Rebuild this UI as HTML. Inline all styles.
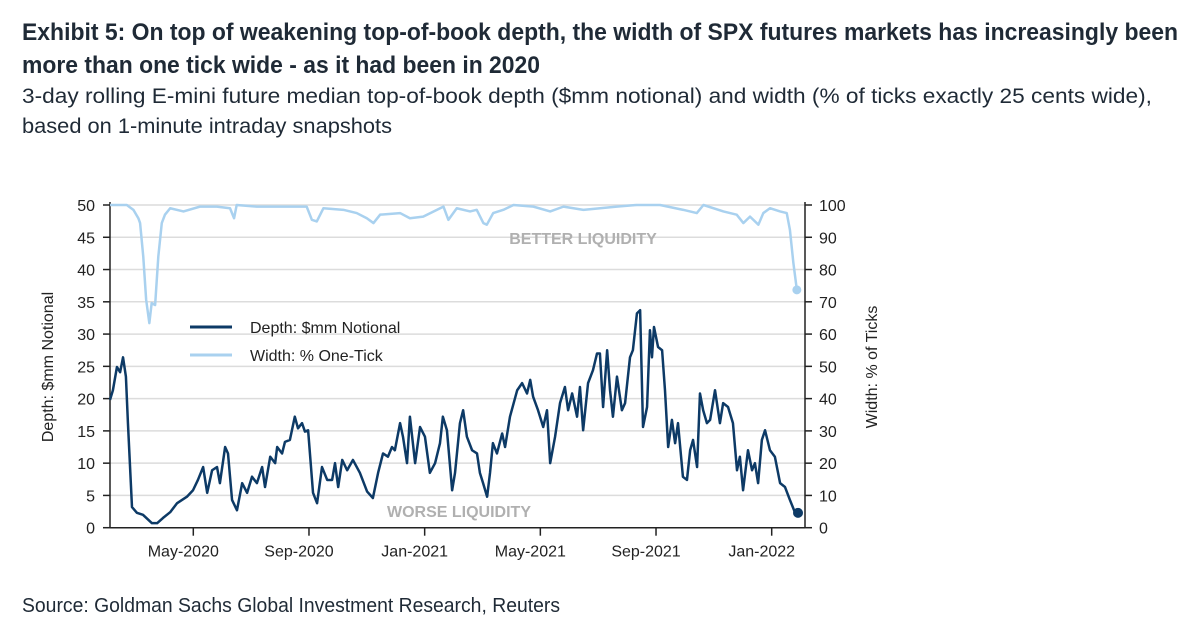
<!DOCTYPE html>
<html><head><meta charset="utf-8"><style>
html,body{margin:0;padding:0;background:#fff;}
svg{display:block;font-family:"Liberation Sans",sans-serif;}
</style></head><body>
<svg id="chart" width="1200" height="627" viewBox="0 0 1200 627">
<text x="22" y="40" font-size="24" font-weight="bold" fill="#1f2a36" textLength="1156" lengthAdjust="spacingAndGlyphs">Exhibit 5: On top of weakening top-of-book depth, the width of SPX futures markets has increasingly been</text>
<text x="22" y="73" font-size="24" font-weight="bold" fill="#1f2a36" textLength="518" lengthAdjust="spacingAndGlyphs">more than one tick wide - as it had been in 2020</text>
<text x="22" y="103" font-size="21" fill="#1f2a36" textLength="1130" lengthAdjust="spacingAndGlyphs">3-day rolling E-mini future median top-of-book depth ($mm notional) and width (% of ticks exactly 25 cents wide),</text>
<text x="22" y="133" font-size="21" fill="#1f2a36" textLength="370" lengthAdjust="spacingAndGlyphs">based on 1-minute intraday snapshots</text>
<text x="22" y="612" font-size="20" fill="#1f2a36" textLength="538" lengthAdjust="spacingAndGlyphs">Source: Goldman Sachs Global Investment Research, Reuters</text>
<g id="grid"></g>
<g id="axes"></g>
<text x="583" y="244" font-size="16" font-weight="bold" fill="#b0b0b0" text-anchor="middle">BETTER LIQUIDITY</text>
<text x="459" y="517" font-size="16" font-weight="bold" fill="#b0b0b0" text-anchor="middle">WORSE LIQUIDITY</text>
<g id="series"></g>
<g>
<line x1="190" y1="327" x2="232" y2="327" stroke="#0d3a66" stroke-width="3"/>
<text x="250" y="333" font-size="16" fill="#222">Depth: $mm Notional</text>
<line x1="190" y1="355" x2="232" y2="355" stroke="#a9d1ef" stroke-width="3"/>
<text x="250" y="361" font-size="16" fill="#222">Width: % One-Tick</text>
</g>
<text transform="translate(53,367) rotate(-90)" font-size="16" fill="#222" text-anchor="middle">Depth: $mm Notional</text>
<text transform="translate(877,367) rotate(-90)" font-size="16" fill="#222" text-anchor="middle">Width: % of Ticks</text>
</svg>
<script>
const depthMonths=[0.12,0.22,0.36,0.47,0.57,0.67,0.74,0.88,1.05,1.26,1.57,1.75,1.95,2.20,2.44,2.78,2.99,3.16,3.34,3.48,3.65,3.82,3.92,4.10,4.20,4.34,4.51,4.69,4.86,5.03,5.20,5.38,5.48,5.66,5.83,5.90,6.07,6.17,6.34,6.51,6.62,6.76,6.86,6.97,7.14,7.28,7.45,7.63,7.80,7.90,8.01,8.15,8.32,8.52,8.76,9.01,9.21,9.39,9.56,9.73,9.87,9.97,10.15,10.25,10.39,10.49,10.67,10.84,11.01,11.18,11.36,11.53,11.63,11.77,11.95,12.05,12.22,12.33,12.46,12.64,12.81,12.91,13.02,13.16,13.26,13.36,13.50,13.68,13.78,13.95,14.20,14.37,14.54,14.65,14.75,14.92,15.10,15.23,15.34,15.51,15.68,15.85,15.96,16.10,16.27,16.37,16.48,16.65,16.82,16.96,17.06,17.17,17.31,17.41,17.51,17.65,17.82,17.93,18.10,18.20,18.34,18.45,18.55,18.69,18.79,18.86,18.93,19.07,19.21,19.31,19.42,19.55,19.66,19.76,19.93,20.07,20.18,20.28,20.42,20.52,20.63,20.76,20.87,21.04,21.21,21.32,21.49,21.66,21.80,21.90,22.01,22.18,22.32,22.42,22.53,22.66,22.77,22.94,23.11,23.29,23.46,23.63,23.81,23.91];
const depthValues=[19.8,21.3,24.9,24.1,26.4,23.4,16.2,3.2,2.3,2.0,0.7,0.7,1.5,2.4,3.8,4.8,5.8,7.4,9.4,5.4,8.9,9.4,6.9,12.5,11.5,4.3,2.7,6.9,5.4,7.9,6.9,9.4,6.3,11.0,10.0,12.5,11.5,13.3,13.6,17.2,15.4,16.2,14.9,15.1,5.4,3.8,9.4,7.4,7.4,10.0,6.3,10.5,8.9,10.5,8.5,5.6,4.6,8.5,11.5,11.0,12.5,12.0,16.2,14.1,10.0,17.2,10.0,15.6,14.1,8.5,10.0,13.1,17.2,15.1,5.8,8.5,16.2,18.2,14.1,12.0,11.5,8.5,6.9,4.8,8.5,13.1,11.5,14.6,12.5,17.2,21.3,22.4,20.8,22.9,20.3,18.2,15.6,18.2,10.0,14.1,19.3,21.8,18.2,20.8,17.2,21.8,15.1,22.4,24.4,27.0,27.0,18.7,27.5,21.3,17.2,23.4,18.2,19.3,26.4,27.5,33.2,33.7,15.6,18.7,30.6,26.4,31.1,28.0,27.5,21.3,12.5,16.7,13.1,16.2,7.9,7.4,12.0,13.6,9.4,20.8,18.2,16.2,16.7,21.3,16.2,19.3,18.7,16.2,8.9,11.0,5.8,12.0,8.9,10.0,6.9,13.6,15.1,12.0,11.0,6.9,6.3,4.3,2.3,2.3];
const widthMonths=[0.12,0.70,0.93,1.10,1.16,1.27,1.37,1.48,1.56,1.68,1.79,1.91,2.02,2.20,2.66,3.23,3.81,4.27,4.41,4.50,5.19,6.34,6.92,7.10,7.27,7.50,8.19,8.65,9.00,9.23,9.46,10.15,10.49,10.95,11.65,11.82,12.11,12.57,12.80,13.03,13.15,13.37,13.72,14.07,14.76,15.34,15.80,16.49,17.64,18.33,19.14,19.94,20.41,20.64,21.33,21.79,22.02,22.25,22.54,22.71,22.94,23.29,23.52,23.63,23.75,23.87];
const widthValues=[100,100,98.5,95.9,94.4,84,70.6,63.4,69.6,69,84,94.4,97,99,98,99.5,99.5,99,95.9,100,99.5,99.5,99.5,95.4,94.9,99,98.5,97.5,95.9,94.4,97,97.5,95.9,96.4,99.5,95.4,99,98,98.5,94.4,93.9,97.5,98.5,100,99.5,98,99.5,98.5,99.5,100,100,98.5,97.5,100,98,97,94.4,96.4,93.9,97.5,99,98,97.5,92.3,82,73.7];
const leftTicks=[0,5,10,15,20,25,30,35,40,45,50];
const rightTicks=[0,10,20,30,40,50,60,70,80,90,100];
const xTickMonths=[3,7,11,15,19,23];
const xTickLabels=["May-2020","Sep-2020","Jan-2021","May-2021","Sep-2021","Jan-2022"];

const NS="http://www.w3.org/2000/svg";
const L=110,R=805,T=205,B=527.7;
const xs=m=>193.3+(m-3)*28.92;
const yl=v=>B-(v/50)*(B-T);
const yr=v=>B-(v/100)*(B-T);
function mk(tag,attrs,parent){const e=document.createElementNS(NS,tag);for(const k in attrs)e.setAttribute(k,attrs[k]);parent.appendChild(e);return e;}
const grid=document.getElementById('grid'),axes=document.getElementById('axes'),series=document.getElementById('series');
leftTicks.forEach((v,i)=>{
  if(v>0){const g=mk('line',{x1:L,x2:R,y1:yl(v),y2:yl(v),stroke:'#dcdcdc','stroke-width':1.5},grid);
  
  }
  const t=mk('line',{x1:L-7,x2:L,y1:yl(v),y2:yl(v),stroke:'#222','stroke-width':1.5},axes);
  
  
  const lb=mk('text',{x:L-15,y:yl(v)+6,'font-size':16,fill:'#222','text-anchor':'end'},axes);lb.textContent=v;
  
  
});
rightTicks.forEach(v=>{
  const t=mk('line',{x1:R,x2:R+7,y1:yr(v),y2:yr(v),stroke:'#222','stroke-width':1.5},axes);
  
  
  const lb=mk('text',{x:R+14,y:yr(v)+6,'font-size':16,fill:'#222'},axes);lb.textContent=v;
  
  
});
xTickMonths.forEach((m,i)=>{
  const t=mk('line',{x1:xs(m),x2:xs(m),y1:B,y2:B+8,stroke:'#222','stroke-width':1.5},axes);
  
  
  const lb=mk('text',{x:xs(m)-10,y:B+29,'font-size':16,fill:'#222','text-anchor':'middle'},axes);lb.textContent=xTickLabels[i];
  
  
});
const la=mk('line',{x1:L,x2:L,y1:T-3,y2:B,stroke:'#222','stroke-width':1.5},axes);


const ra=mk('line',{x1:R,x2:R,y1:T-3,y2:B,stroke:'#222','stroke-width':1.5},axes);


const ba=mk('line',{x1:L,x2:R,y1:B,y2:B,stroke:'#222','stroke-width':1.5},axes);



const wp=mk('polyline',{points:widthMonths.map((m,i)=>xs(m)+','+yr(widthValues[i])).join(' '),fill:'none',stroke:'#a9d1ef','stroke-width':2.5,'stroke-linejoin':'round'},series);


const wn=widthMonths.length-1;
const wd=mk('circle',{cx:xs(widthMonths[wn]),cy:yr(widthValues[wn]),r:4.5,fill:'#a9d1ef'},series);


const dp=mk('polyline',{points:depthMonths.map((m,i)=>xs(m)+','+yl(depthValues[i])).join(' '),fill:'none',stroke:'#0d3a66','stroke-width':2.5,'stroke-linejoin':'round'},series);


const dn=depthMonths.length-1;
const dd=mk('circle',{cx:xs(depthMonths[dn]),cy:yl(depthValues[dn]),r:5,fill:'#0d3a66'},series);


</script>
</body></html>
